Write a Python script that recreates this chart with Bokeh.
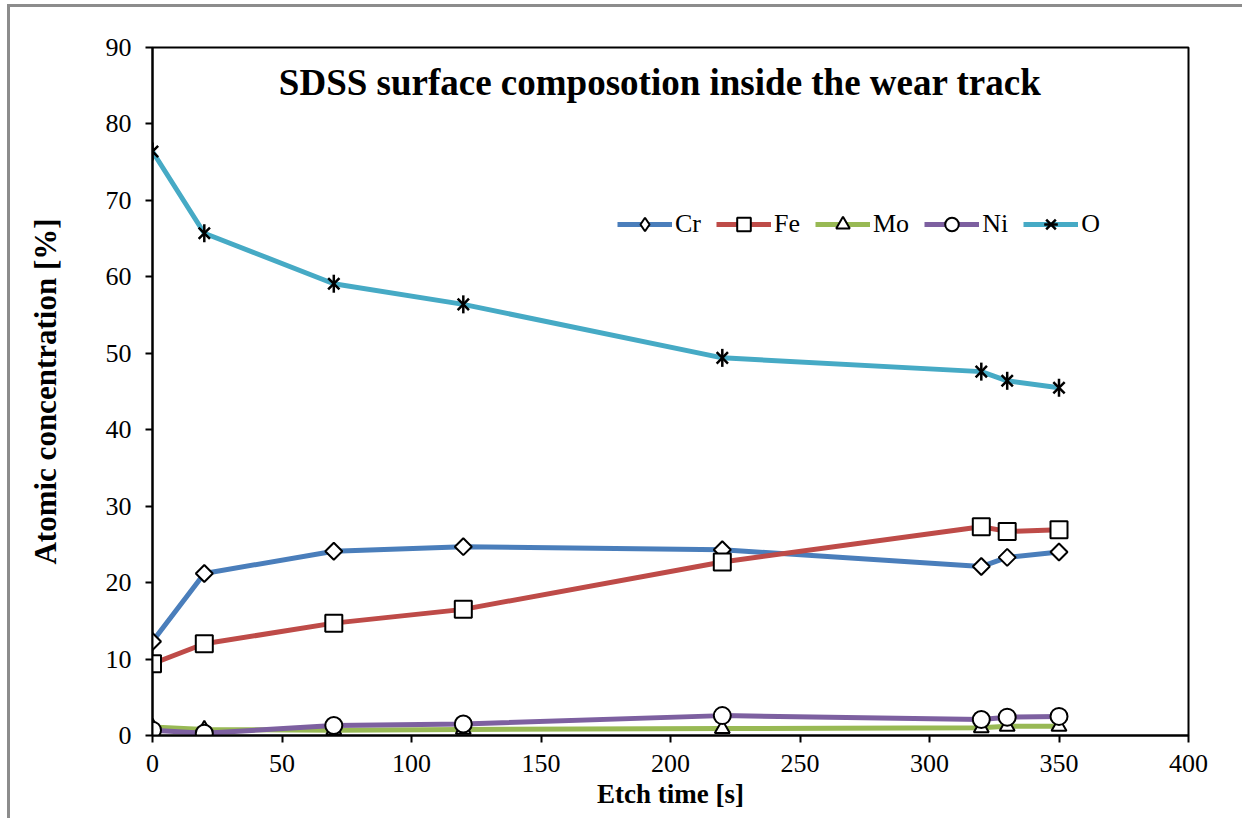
import math
from bokeh.plotting import figure
from bokeh.models import Range1d, FixedTicker, Label, Legend, LegendItem
from bokeh.embed import file_html
from bokeh.resources import INLINE

etch_time = [0, 20, 70, 120, 220, 320, 330, 350]
cr = [12.3, 21.2, 24.1, 24.7, 24.3, 22.1, 23.3, 24.0]
fe = [9.4, 12.0, 14.7, 16.5, 22.7, 27.3, 26.7, 26.9]
mo = [1.1, 0.8, 0.7, 0.8, 0.9, 1.0, 1.2, 1.2]
ni = [0.7, 0.3, 1.3, 1.5, 2.6, 2.1, 2.4, 2.5]
o = [76.4, 65.7, 59.1, 56.4, 49.4, 47.6, 46.4, 45.5]

y_ticks = [0, 10, 20, 30, 40, 50, 60, 70, 80, 90]
x_ticks = [0, 50, 100, 150, 200, 250, 300, 350, 400]

title_text = "SDSS surface composotion inside the wear track"
y_label = "Atomic concentration [%]"
x_label = "Etch time [s]"

FONT = "Liberation Serif"
AX_FONT = "'Liberation Serif', 'Times New Roman', serif"

p = figure(width=1235, height=814, output_backend="svg", toolbar_location=None,
           x_range=Range1d(0, 400), y_range=Range1d(0, 90),
           min_border_left=142, min_border_right=57, min_border_top=40, min_border_bottom=86)
p.styles = {"margin-left": "7px", "margin-top": "4px",
            "border-left": "3px solid #8c8c8c", "border-top": "3px solid #8c8c8c"}

p.xgrid.visible = False
p.ygrid.visible = False
p.outline_line_color = "black"
p.outline_line_width = 2

for axes in (p.xaxis, p.yaxis):
    axes.axis_line_width = 2
    axes.axis_line_color = "black"
    axes.major_tick_line_width = 2
    axes.major_tick_line_color = "black"
    axes.major_tick_out = 7
    axes.major_tick_in = 0
    axes.minor_tick_out = 0
    axes.minor_tick_in = 0
    axes.major_label_text_font = AX_FONT
    axes.major_label_text_font_size = "26px"
    axes.major_label_text_color = "black"
    axes.axis_label_text_font = AX_FONT
    axes.axis_label_text_font_style = "bold"
    axes.axis_label_text_color = "black"

p.xaxis.ticker = FixedTicker(ticks=x_ticks)
p.yaxis.ticker = FixedTicker(ticks=y_ticks)
p.xaxis.major_label_standoff = 12
p.yaxis.major_label_standoff = 14

p.xaxis.axis_label = x_label
p.xaxis.axis_label_text_font_size = "27px"
p.xaxis.axis_label_standoff = 4

p.yaxis.axis_label = y_label
p.yaxis.axis_label_text_font_size = "31px"
p.yaxis.axis_label_standoff = 40

colors = {"Cr": "#4A7EBB", "Fe": "#BE4B48", "Mo": "#98B954", "Ni": "#7D60A0", "O": "#46AAC5"}

items = []

def series(name, vals, marker, size, angle=0.0, legend_marker=None):
    ln = p.line(etch_time, vals, line_color=colors[name], line_width=5)
    sc = p.scatter(etch_time, vals, marker=marker, size=size, angle=angle, fill_color="white",
                   line_color="black", line_width=2)
    rends = [ln, sc]
    if legend_marker is not None:
        lg = p.scatter([-500], [-500], marker=legend_marker, size=size, fill_color="white",
                       line_color="black", line_width=2)
        rends = [ln, lg]
    items.append(LegendItem(label=name, renderers=rends))

series("Cr", cr, "square", 12, math.pi / 4, legend_marker="diamond")
series("Fe", fe, "square", 17)
series("Mo", mo, "triangle", 15)
series("Ni", ni, "circle", 17)
ln_o = p.line(etch_time, o, line_color=colors["O"], line_width=5)
sc_o1 = p.scatter(etch_time, o, marker="x", size=16, line_color="black", line_width=2.5)
sc_o2 = p.scatter(etch_time, o, marker="dash", size=18, angle=math.pi / 2, line_color="black", line_width=2.5)
items.append(LegendItem(label="O", renderers=[ln_o, sc_o1, sc_o2]))

legend = Legend(items=items, orientation="horizontal", location=(465, 494),
                glyph_width=55, glyph_height=34, label_height=34, label_standoff=3,
                spacing=15, padding=0, margin=0,
                label_text_font=FONT, label_text_font_size="26px", label_text_color="black",
                border_line_color=None, background_fill_alpha=0)
p.add_layout(legend, "center")

p.add_layout(Label(x=196, y=85.4, text=title_text, text_font=FONT, text_font_size="37px",
                   text_font_style="bold", text_align="center", text_baseline="middle",
                   text_color="black"))

open("out.html", "w").write(file_html(p, INLINE))
